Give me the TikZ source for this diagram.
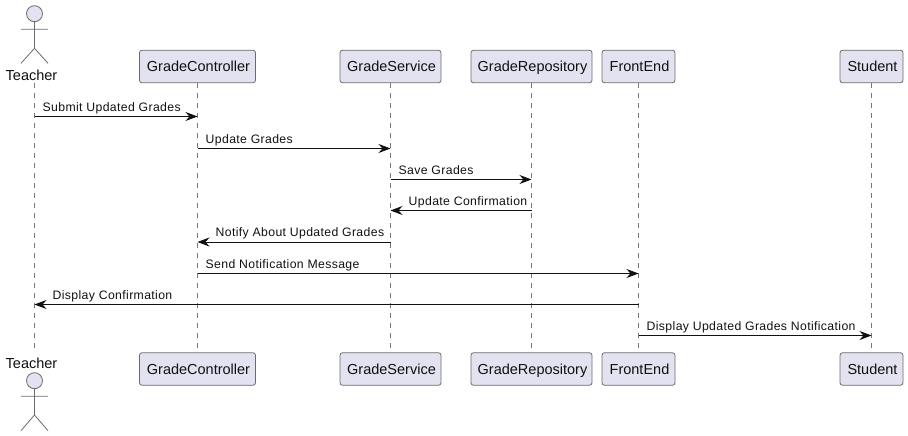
\documentclass[tikz,border=0pt]{standalone}
\usepackage{fontspec}
\setmainfont{Liberation Sans}
\newfontfamily\msgfont[LetterSpace=3]{Liberation Sans}
\usetikzlibrary{arrows.meta}
\definecolor{partfill}{HTML}{E2E2F0}
\definecolor{partline}{HTML}{6B6B6B}
\definecolor{lifeline}{HTML}{777777}
\definecolor{ink}{HTML}{111111}
\tikzset{
  x=1pt,y=-1pt,
  part/.style={draw=partline,fill=partfill,line width=0.8pt,rounded corners=2.5pt,minimum height=32.5pt,inner sep=0pt,text=ink,font=\fontsize{14.5}{16}\selectfont,text height=13pt,text depth=2pt,execute at begin node={\hspace*{2pt}},anchor=center},
  actorshape/.style={draw=partline,line width=0.8pt},
  actorhead/.style={circle,draw=partline,fill=partfill,line width=0.8pt,minimum size=16pt,inner sep=0pt},
  actorlabel/.style={text=ink,font=\fontsize{14.5}{16}\selectfont,inner sep=0pt,anchor=center},
  life/.style={draw=lifeline,line width=0.7pt,dash pattern=on 5pt off 5pt},
  msg/.style={draw=ink,line width=0.8pt,-{Stealth[length=12pt,width=9pt,inset=4pt,fill=ink]}},
  msglabel/.style={text=ink,font=\msgfont\fontsize{12.25}{14}\selectfont,inner sep=0pt,anchor=base west},
}
\newcommand{\sendmsg}[5]{%
  \draw[msg] (#1 |- 0,#3) -- (#2 |- 0,#3);
  \node[msglabel] at (#4,#3-5.3) {#5};}
\begin{document}
\begin{tikzpicture}
\useasboundingbox (0,0) rectangle (908,436);
% lifeline anchors
\coordinate (lT) at (34.5,83);  \coordinate (lTb) at (34.5,352);
\coordinate (lC) at (197.5,83); \coordinate (lCb) at (197.5,352);
\coordinate (lS) at (390.5,83); \coordinate (lSb) at (390.5,352);
\coordinate (lR) at (531.5,83); \coordinate (lRb) at (531.5,352);
\coordinate (lF) at (638.5,83); \coordinate (lFb) at (638.5,352);
\coordinate (lU) at (871.5,83); \coordinate (lUb) at (871.5,352);
\foreach \a/\b in {lT/lTb,lC/lCb,lS/lSb,lR/lRb,lF/lFb,lU/lUb}
  \draw[life] (\a) -- (\b);
% participants
\node[part,minimum width=116pt] (c1) at (197.5,66.5) {GradeController};
\node[part,minimum width=101pt] (s1) at (390.5,66.5) {GradeService};
\node[part,minimum width=121pt] (r1) at (531.5,66.5) {GradeRepository};
\node[part,minimum width=73pt] (f1) at (638.5,66.5) {FrontEnd};
\node[part,minimum width=63pt] (u1) at (871.5,66.5) {Student};
\node[part,minimum width=116pt] (c2) at (197.5,369) {GradeController};
\node[part,minimum width=101pt] (s2) at (390.5,369) {GradeService};
\node[part,minimum width=121pt] (r2) at (531.5,369) {GradeRepository};
\node[part,minimum width=73pt] (f2) at (638.5,369) {FrontEnd};
\node[part,minimum width=63pt] (u2) at (871.5,369) {Student};
% actors
\node[actorlabel] (t1) at (31.5,75) {Teacher};
\node[actorhead] (h1) at (34.5,13.7) {};
\draw[actorshape] (h1.south) -- (34.5,48.3) (21,29.3) -- (48,29.3) (21,63.3) -- (34.5,48.3) -- (48,63.3);
\node[actorlabel] (t2) at (31.5,363) {Teacher};
\node[actorhead] (h2) at (34.5,380.7) {};
\draw[actorshape] (h2.south) -- (34.5,415) (21,396.3) -- (48,396.3) (21,430.7) -- (34.5,415) -- (48,430.7);
% messages
\sendmsg{lT}{lC}{116.5}{42.5}{Submit Updated Grades}
\sendmsg{lC}{lS}{148.5}{205.5}{Update Grades}
\sendmsg{lS}{lR}{179.5}{398.5}{Save Grades}
\sendmsg{lR}{lS}{210.5}{408.5}{Update Confirmation}
\sendmsg{lS}{lC}{242}{215.5}{Notify About Updated Grades}
\sendmsg{lC}{lF}{273.5}{205.5}{Send Notification Message}
\sendmsg{lF}{lT}{304.5}{52.5}{Display Confirmation}
\sendmsg{lF}{lU}{335.5}{646.5}{Display Updated Grades Notification}
\end{tikzpicture}
\end{document}
